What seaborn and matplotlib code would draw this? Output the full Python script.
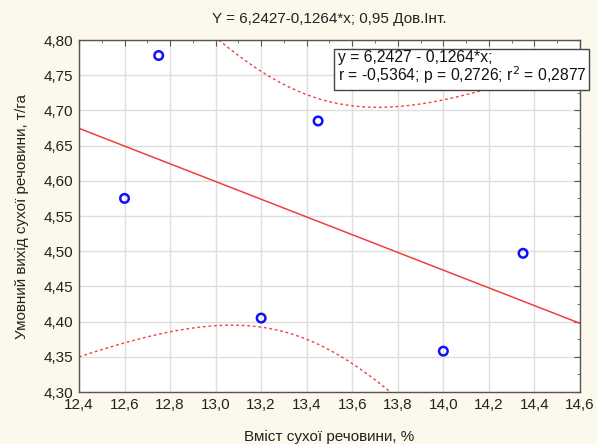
import seaborn as sns
import matplotlib.pyplot as plt
import matplotlib.ticker as mticker
import pandas as pd
import numpy as np

# дані
dry_matter = [12.6, 12.75, 13.2, 13.45, 14.0, 14.35]      # Вміст сухої речовини, %
dm_yield = [4.575, 4.778, 4.405, 4.685, 4.358, 4.497]     # Умовний вихід сухої речовини, т/га

df = pd.DataFrame({'x': dry_matter, 'y': dm_yield})

# лінійна регресія та 95% довірчий інтервал
x = df['x'].to_numpy()
y = df['y'].to_numpy()
n = len(x)
b, a = np.polyfit(x, y, 1)
resid = y - (a + b * x)
s = np.sqrt((resid ** 2).sum() / (n - 2))
sxx = ((x - x.mean()) ** 2).sum()
t_crit = 2.776  # t(0.975, 4)

xs = np.linspace(12.4, 14.6, 200)
yhat = a + b * xs
hw = t_crit * s * np.sqrt(1 / n + (xs - x.mean()) ** 2 / sxx)
fit = pd.DataFrame({'x': xs, 'fit': yhat, 'lo': yhat - hw, 'hi': yhat + hw})

sns.set_style('white')
plt.rcParams['font.family'] = ['Liberation Sans', 'DejaVu Sans']

fig = plt.figure(figsize=(5.97, 4.44), dpi=100, facecolor='#fdf8ec')
ax = fig.add_axes([0.1323, 0.1171, 0.8392, 0.7928])
ax.set_facecolor('white')

sns.lineplot(data=fit, x='x', y='fit', color='#f04040', lw=1.1, ax=ax)
sns.lineplot(data=fit, x='x', y='lo', color='#f04040', lw=1.0, ax=ax,
             linestyle=(0, (2, 2)))
sns.lineplot(data=fit, x='x', y='hi', color='#f04040', lw=1.0, ax=ax,
             linestyle=(0, (2, 2)))
sns.scatterplot(data=df, x='x', y='y', marker='o', s=38, facecolors='none',
                edgecolor='#1010ff', linewidth=1.8, ax=ax, zorder=5)

ax.set_xlim(12.4, 14.6)
ax.set_ylim(4.30, 4.80)
ax.xaxis.set_major_locator(mticker.MultipleLocator(0.2))
ax.xaxis.set_minor_locator(mticker.MultipleLocator(0.1))
ax.yaxis.set_major_locator(mticker.MultipleLocator(0.05))
ax.yaxis.set_minor_locator(mticker.MultipleLocator(0.025))
ax.xaxis.set_major_formatter(mticker.FuncFormatter(lambda v, p: f'{v:.1f}'.replace('.', ',')))
ax.yaxis.set_major_formatter(mticker.FuncFormatter(lambda v, p: f'{v:.2f}'.replace('.', ',')))
ax.grid(True, which='major', color='#dedede', lw=1.0)
ax.tick_params(which='both', direction='in', top=True, right=True,
               color='#555555', labelsize=11, labelcolor='#222222', pad=4)
ax.tick_params(which='major', length=4)
ax.tick_params(which='minor', length=2)
for sp in ax.spines.values():
    sp.set_visible(True)
    sp.set_color('#555555')
    sp.set_linewidth(1.0)

ax.set_xlabel('Вміст сухої речовини, %', fontsize=11, labelpad=13, color='#222222')
ax.set_ylabel('Умовний вихід сухої речовини, т/га', fontsize=11, labelpad=11, color='#222222')
ax.set_title('Y = 6,2427-0,1264*x; 0,95 Дов.Інт.', fontsize=11, pad=12, color='#222222')

ax.text(0.516, 0.868, 'y = 6,2427 - 0,1264*x;\nr = -0,5364; p = 0,2726; r$^2$ = 0,2877',
        transform=ax.transAxes, fontsize=11.3, ha='left', va='bottom',
        linespacing=1.0, clip_on=False, zorder=10, color='#111111',
        bbox=dict(boxstyle='square,pad=0.2', facecolor='white',
                  edgecolor='#444444', lw=1.0))

fig.savefig('out.png', dpi=100, facecolor=fig.get_facecolor())
